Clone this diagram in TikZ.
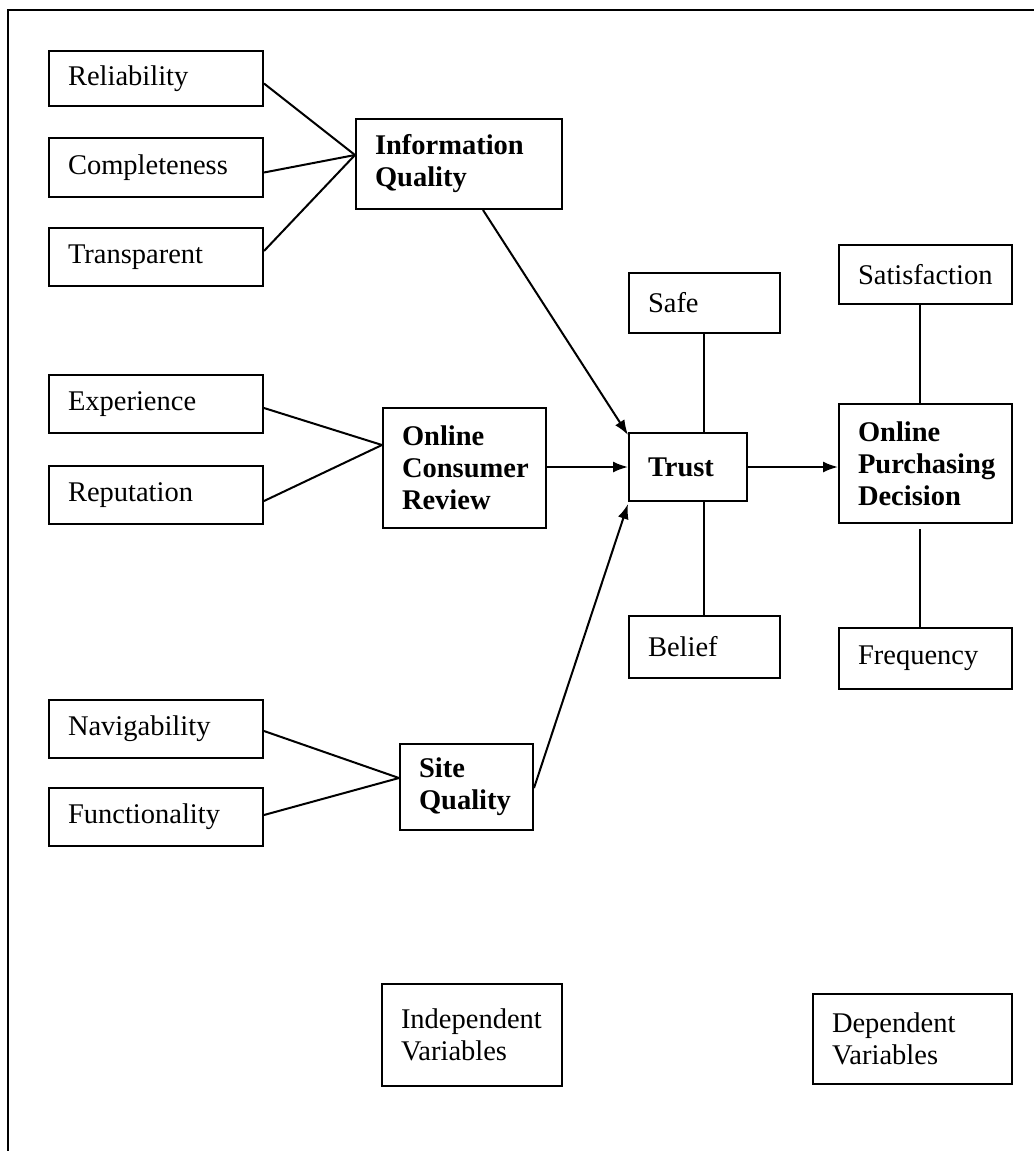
\documentclass[tikz,border=0pt]{standalone}
\usepackage{fontspec}
\setmainfont{Liberation Serif}
\usetikzlibrary{arrows.meta,calc}
\begin{document}
\begin{tikzpicture}[x=1pt,y=-1pt,
  box/.style={draw, line width=2pt, anchor=north west, inner xsep=19pt, inner ysep=0pt,
    align=left, font=\fontsize{28.5}{32}\selectfont},
  bbox/.style={box, font=\fontsize{28.5}{32}\selectfont\bfseries},
  link/.style={line width=2pt},
  arr/.style={link, -{Latex[length=15pt,width=11pt]}}]
\useasboundingbox (0,0) rectangle (1034,1151);
\draw[link] (8,1151) -- (8,10) -- (1034,10);

% left column
\node[box, text width=176pt, minimum height=55pt] (rel) at (48,50) {Reliability};
\node[box, text width=176pt, minimum height=59pt] (comp) at (48,137) {Completeness};
\node[box, text width=176pt, minimum height=58pt] (trans) at (48,227) {Transparent};
\node[box, text width=176pt, minimum height=58pt] (exp) at (48,374) {Experience};
\node[box, text width=176pt, minimum height=58pt] (rep) at (48,465) {Reputation};
\node[box, text width=176pt, minimum height=58pt] (nav) at (48,699) {Navigability};
\node[box, text width=176pt, minimum height=58pt] (func) at (48,787) {Functionality};

% independent constructs
\node[bbox, text width=168pt, minimum height=90pt] (iq) at (355,118) {Information\\Quality};
\node[bbox, text width=125pt, minimum height=120pt] (ocr) at (382,407) {Online\\Consumer\\Review};
\node[bbox, text width=95pt, minimum height=86pt] (sq) at (399,743) {Site\\Quality};

% trust
\node[box, text width=113pt, minimum height=60pt] (safe) at (628,272) {Safe};
\node[bbox, text width=80pt, minimum height=68pt] (trust) at (628,432) {Trust};
\node[box, text width=113pt, minimum height=62pt] (belief) at (628,615) {Belief};

% decision
\node[box, text width=135pt, minimum height=59pt] (sat) at (838,244) {Satisfaction};
\node[bbox, text width=135pt, minimum height=119pt] (opd) at (838,403) {Online\\Purchasing\\Decision};
\node[box, text width=135pt, minimum height=61pt] (freq) at (838,627) {Frequency};

% legend
\node[box, text width=142pt, minimum height=102pt] (indep) at (381,983) {Independent\\Variables};
\node[box, text width=161pt, minimum height=90pt] (dep) at (812,993) {Dependent\\Variables};

% convergence points
\coordinate (iqin) at ($(iq.north west)+(0,37)$);
\coordinate (ocrin) at ($(ocr.north west)+(0,38)$);
\coordinate (sqin) at ($(sq.north west)+(0,35)$);

\draw[link] ($(rel.east)+(0,5)$) -- (iqin);
\draw[link] ($(comp.east)+(0,5)$) -- (iqin);
\draw[link] ($(trans.east)+(0,-6)$) -- (iqin);
\draw[link] ($(exp.east)+(0,4)$) -- (ocrin);
\draw[link] ($(rep.east)+(0,6)$) -- (ocrin);
\draw[link] ($(nav.east)+(0,2)$) -- (sqin);
\draw[link] ($(func.east)+(0,-2)$) -- (sqin);

% arrows into trust and decision
\draw[arr] ($(iq.south)+(24,0)$) -- ($(trust.north west)+(0,3)$);
\draw[arr] (trust.west -| ocr.east) -- (trust.west);
\draw[arr] ($(sq.east)+(0,1)$) -- ($(trust.south west)+(0,2)$);
\draw[arr] (trust.east) -- (trust.east -| opd.west);

% dimension links
\coordinate (safebot) at ($(safe.south)+(-1,0)$);
\coordinate (belieftop) at ($(belief.north)+(-1,0)$);
\coordinate (satbot) at ($(sat.south)+(-6,0)$);
\coordinate (opdbot) at ($(opd.south)+(-6,5)$);
\draw[link] (safebot) -- (safebot |- trust.north);
\draw[link] (belieftop) -- (belieftop |- trust.south);
\draw[link] (satbot) -- (satbot |- opd.north);
\draw[link] (opdbot) -- (opdbot |- freq.north);
\end{tikzpicture}
\end{document}
